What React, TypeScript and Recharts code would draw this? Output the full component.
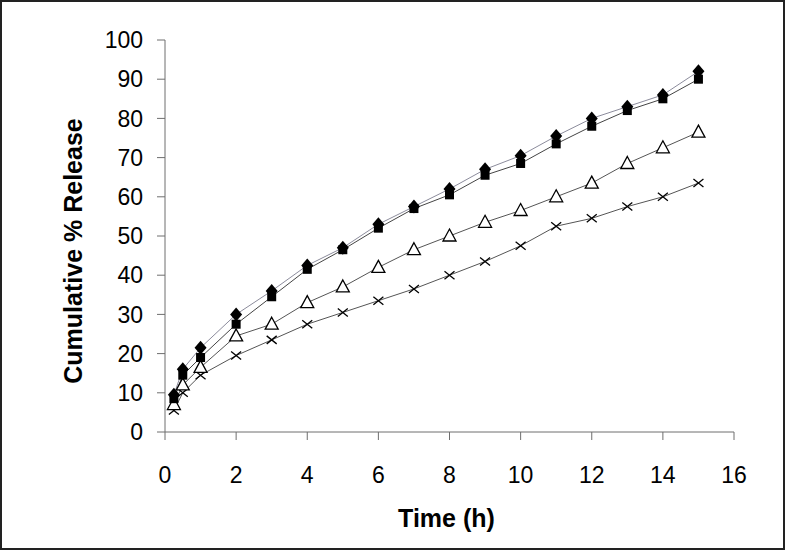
import { LineChart, Line, XAxis, YAxis, Label } from "recharts";

const hours = [0.25, 0.5, 1, 2, 3, 4, 5, 6, 7, 8, 9, 10, 11, 12, 13, 14, 15];
const diamondSeries = [9.5, 16, 21.5, 30, 36, 42.5, 47, 53, 57.5, 62, 67, 70.5, 75.5, 80, 83, 86, 92];
const squareSeries = [8.5, 14.5, 19, 27.5, 34.5, 41.5, 46.5, 52, 57, 60.5, 65.5, 68.5, 73.5, 78, 82, 85, 90];
const triangleSeries = [7, 12, 16.5, 24.5, 27.5, 33, 37, 42, 46.5, 50, 53.5, 56.5, 60, 63.5, 68.5, 72.5, 76.5];
const crossSeries = [5.5, 10, 14.5, 19.5, 23.5, 27.5, 30.5, 33.5, 36.5, 40, 43.5, 47.5, 52.5, 54.5, 57.5, 60, 63.5];
const xTicks = [0, 2, 4, 6, 8, 10, 12, 14, 16];
const yTicks = [0, 10, 20, 30, 40, 50, 60, 70, 80, 90, 100];

const data = hours.map((h, i) => ({
  h,
  a: diamondSeries[i],
  b: squareSeries[i],
  c: triangleSeries[i],
  d: crossSeries[i],
}));

const font = "Arial, 'Liberation Sans', sans-serif";
const axisGray = "#6e6e6e";

const Diamond = (p: any) => (
  <path
    key={p.index}
    d={`M${p.cx},${p.cy - 7} L${p.cx + 6},${p.cy} L${p.cx},${p.cy + 7} L${p.cx - 6},${p.cy} Z`}
    fill="#000"
  />
);
const Square = (p: any) => (
  <rect key={p.index} x={p.cx - 4.5} y={p.cy - 4.5} width={9} height={9} fill="#000" />
);
const Triangle = (p: any) => (
  <path
    key={p.index}
    d={`M${p.cx},${p.cy - 7} L${p.cx + 6.5},${p.cy + 5} L${p.cx - 6.5},${p.cy + 5} Z`}
    fill="#fff"
    stroke="#000"
    strokeWidth={1.3}
  />
);
const Cross = (p: any) => (
  <path
    key={p.index}
    d={`M${p.cx - 5},${p.cy - 4} L${p.cx + 5},${p.cy + 4} M${p.cx + 5},${p.cy - 4} L${p.cx - 5},${p.cy + 4}`}
    stroke="#000"
    strokeWidth={1.3}
  />
);

export default function App() {
  return (
    <div style={{ position: "absolute", left: 0, top: 0, width: 785, height: 550, background: "#fff" }}>
      <LineChart
        width={785}
        height={550}
        data={data}
        margin={{ top: 40, right: 51, bottom: 18, left: 0 }}
      >
        <XAxis
          dataKey="h"
          type="number"
          domain={[0, 16]}
          ticks={xTicks}
          height={100}
          stroke={axisGray}
          tickSize={8}
          tickMargin={27}
          tick={{ fill: "#000", fontSize: 23, fontFamily: font }}
        >
          <Label
            content={({ viewBox }: any) => (
              <text
                x={viewBox.x + viewBox.width / 2 - 3}
                y={527}
                textAnchor="middle"
                fontFamily={font}
                fontWeight="bold"
                fontSize={25}
                fill="#000"
              >
                Time (h)
              </text>
            )}
          />
        </XAxis>
        <YAxis
          type="number"
          domain={[0, 100]}
          ticks={yTicks}
          width={165}
          stroke={axisGray}
          tickSize={8}
          tickMargin={14}
          tick={{ fill: "#000", fontSize: 23, fontFamily: font }}
        >
          <Label
            content={({ viewBox }: any) => {
              const cy = viewBox.y + viewBox.height / 2 + 15;
              return (
                <text
                  x={82}
                  y={cy}
                  transform={`rotate(-90, 82, ${cy})`}
                  textAnchor="middle"
                  fontFamily={font}
                  fontWeight="bold"
                  fontSize={25}
                  fill="#000"
                >
                  Cumulative % Release
                </text>
              );
            }}
          />
        </YAxis>
        <Line dataKey="d" stroke="#555" strokeWidth={1} dot={Cross} isAnimationActive={false} />
        <Line dataKey="c" stroke="#555" strokeWidth={1} dot={Triangle} isAnimationActive={false} />
        <Line dataKey="a" stroke="#8c8c9c" strokeWidth={1} dot={Diamond} isAnimationActive={false} />
        <Line dataKey="b" stroke="#444" strokeWidth={1} dot={Square} isAnimationActive={false} />
      </LineChart>
      <div
        style={{
          position: "absolute",
          left: 0,
          top: 0,
          width: 785,
          height: 550,
          boxSizing: "border-box",
          border: "2px solid #222",
          pointerEvents: "none",
        }}
      />
    </div>
  );
}
